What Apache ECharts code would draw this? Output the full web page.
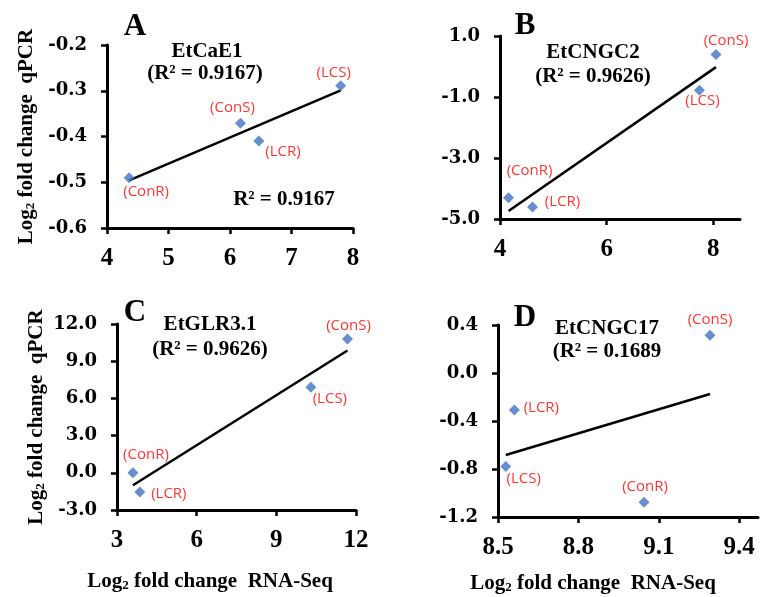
<!DOCTYPE html>
<html>
<head>
<meta charset="utf-8">
<script src="https://cdn.jsdelivr.net/npm/echarts@6/dist/echarts.min.js"></script>
<style>
  html, body { margin: 0; padding: 0; background: #fff; }
  #main { width: 760px; height: 597px; }
</style>
</head>
<body>
<div id="main"></div>
<script>
// point order in every panel
var names = ['ConR', 'ConS', 'LCR', 'LCS'];

// A  EtCaE1
var aX = [4.36, 6.17, 6.47, 7.80];
var aY = [-0.49, -0.371, -0.41, -0.289];
var aTrendX = [4.36, 7.80];
var aTrendY = [-0.496, -0.299];
var aXTicks = [4, 5, 6, 7, 8];
var aYTicks = [-0.6, -0.5, -0.4, -0.3, -0.2];

// B  EtCNGC2
var bX = [4.16, 8.05, 4.61, 7.74];
var bY = [-4.30, 0.39, -4.61, -0.78];
var bTrendX = [4.16, 8.05];
var bTrendY = [-4.74, -0.02];
var bXTicks = [4, 6, 8];
var bYTicks = [-5, -3, -1, 1];

// C  EtGLR3.1
var cX = [3.60, 11.68, 3.86, 10.30];
var cY = [0.0, 10.8, -1.54, 6.9];
var cTrendX = [3.60, 11.68];
var cTrendY = [-1.0, 9.86];
var cXTicks = [3, 6, 9, 12];
var cYTicks = [-3, 0, 3, 6, 9, 12];

// D  EtCNGC17
var dX = [9.045, 9.291, 8.561, 8.529];
var dY = [-1.078, 0.314, -0.308, -0.78];
var dTrendX = [8.529, 9.291];
var dTrendY = [-0.683, -0.175];
var dXTicks = [8.5, 8.8, 9.1, 9.4];
var dYTicks = [-1.2, -0.8, -0.4, 0.0, 0.4];

var serif = 'Liberation Serif';
var redLabelOffsets = [
  [[17, 14], [-8, -15], [24, 11], [-7, -13]],
  [[21, -27], [10, -14], [30, -5], [3, 10]],
  [[13, -18], [1, -13], [29, 2], [19, 11]],
  [[1, -16], [0, -16], [27, -2], [18, 12]]
];

function xAxisOf(i, min, max, ticks, dec) {
  return {
    type: 'value', gridIndex: i, min: min, max: max,
    splitLine: { show: false },
    axisLine: { onZero: false, lineStyle: { color: '#000', width: 3 } },
    axisTick: { customValues: ticks, length: 6, lineStyle: { color: '#000', width: 2.5 } },
    axisLabel: {
      customValues: ticks, margin: 18, color: '#000',
      fontFamily: serif, fontWeight: 'bold', fontSize: 25,
      formatter: function (v) { return v.toFixed(dec); }
    }
  };
}

function yAxisOf(i, min, max, ticks, withName) {
  var ax = {
    type: 'value', gridIndex: i, min: min, max: max,
    splitLine: { show: false },
    axisLine: { onZero: false, lineStyle: { color: '#000', width: 3 } },
    axisTick: { customValues: ticks, length: 6, lineStyle: { color: '#000', width: 2.5 } },
    axisLabel: {
      customValues: ticks, margin: 20, color: '#000',
      fontFamily: 'DejaVu Serif', fontWeight: 'bold', fontSize: 18,
      formatter: function (v) { return v.toFixed(1); }
    }
  };
  if (withName) {
    ax.name = 'Log{s|2} fold change  qPCR';
    ax.nameLocation = 'middle';
    ax.nameGap = 70;
    ax.nameTextStyle = {
      color: '#000', fontFamily: serif, fontWeight: 'bold', fontSize: 21,
      rich: { s: { fontFamily: serif, fontWeight: 'bold', fontSize: 13, verticalAlign: 'bottom', color: '#000' } }
    };
  }
  return ax;
}

function pointSeries(i, xs, ys) {
  var data = [];
  for (var k = 0; k < xs.length; k++) {
    data.push({
      name: names[k], value: [xs[k], ys[k]],
      label: { offset: redLabelOffsets[i][k] }
    });
  }
  return {
    type: 'scatter', xAxisIndex: i, yAxisIndex: i, z: 3,
    symbol: 'diamond', symbolSize: 11,
    itemStyle: { color: '#4472C4' },
    label: {
      show: true, position: 'inside', formatter: '({b})',
      color: '#FF0000', fontFamily: 'Open Sans', fontSize: 15
    },
    data: data
  };
}

function trendSeries(i, xs, ys) {
  return {
    type: 'line', xAxisIndex: i, yAxisIndex: i, z: 2,
    symbol: 'none', silent: true,
    lineStyle: { color: '#000', width: 2.5 },
    data: [[xs[0], ys[0]], [xs[1], ys[1]]]
  };
}

function txt(x, y, s, size) {
  return {
    type: 'text', x: x, y: y,
    style: {
      text: s, fill: '#000', align: 'center', verticalAlign: 'middle',
      fontFamily: serif, fontWeight: 'bold', fontSize: size,
      rich: { s: { fontFamily: serif, fontWeight: 'bold', fontSize: 13, verticalAlign: 'bottom', fill: '#000' } }
    }
  };
}

var chart = echarts.init(document.getElementById('main'));
chart.setOption({
  backgroundColor: '#fff',
  animation: false,
  grid: [
    { left: 107, top: 45, width: 246, height: 183 },
    { left: 500, top: 36, width: 240, height: 183 },
    { left: 117, top: 324, width: 239, height: 186 },
    { left: 498, top: 325, width: 260, height: 192 }
  ],
  xAxis: [
    xAxisOf(0, 4, 8, aXTicks, 0),
    xAxisOf(1, 4, 8.5, bXTicks, 0),
    xAxisOf(2, 3, 12, cXTicks, 0),
    xAxisOf(3, 8.5, 9.47, dXTicks, 1)
  ],
  yAxis: [
    yAxisOf(0, -0.6, -0.2, aYTicks, true),
    yAxisOf(1, -5, 1, bYTicks, false),
    yAxisOf(2, -3, 12, cYTicks, true),
    yAxisOf(3, -1.2, 0.4, dYTicks, false)
  ],
  series: [
    trendSeries(0, aTrendX, aTrendY), pointSeries(0, aX, aY),
    trendSeries(1, bTrendX, bTrendY), pointSeries(1, bX, bY),
    trendSeries(2, cTrendX, cTrendY), pointSeries(2, cX, cY),
    trendSeries(3, dTrendX, dTrendY), pointSeries(3, dX, dY)
  ],
  graphic: [
    txt(135, 27, 'A', 31), txt(525, 26, 'B', 31), txt(135, 313, 'C', 31), txt(525, 318, 'D', 31),
    txt(207, 52, 'EtCaE1', 21), txt(205, 74, '(R² = 0.9167)', 21), txt(284, 200, 'R² = 0.9167', 21),
    txt(593, 53, 'EtCNGC2', 21), txt(593, 77, '(R² = 0.9626)', 21),
    txt(210, 325, 'EtGLR3.1', 21), txt(210, 350, '(R² = 0.9626)', 21),
    txt(607, 329, 'EtCNGC17', 21), txt(607, 352, '(R² = 0.1689', 21),
    txt(210, 582, 'Log{s|2} fold change  RNA-Seq', 21),
    txt(593, 584, 'Log{s|2} fold change  RNA-Seq', 21)
  ]
});
</script>
</body>
</html>
